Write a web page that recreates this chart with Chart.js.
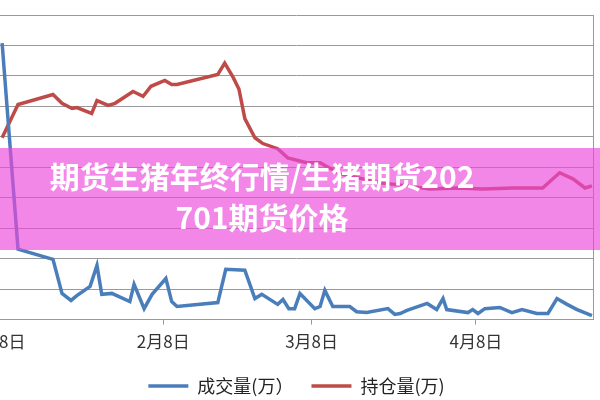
<!DOCTYPE html>
<html>
<head>
<meta charset="utf-8">
<script src="https://cdn.jsdelivr.net/npm/chart.js@4/dist/chart.umd.min.js"></script>
<style>
    html, body { margin: 0; padding: 0; background: #fff; }
    #wrap { position: relative; width: 600px; height: 400px; overflow: hidden; }
    #banner { position: absolute; left: 0; top: 148px; width: 600px; height: 102px; background: rgba(235, 70, 220, 0.65); }
    #title { position: absolute; left: 0; top: 155px; width: 524px; text-align: center; color: #fff;
             font: bold 30px/41px "Noto Sans CJK SC", sans-serif; }
</style>
</head>
<body>
<div id="wrap">
    <canvas id="chart" width="600" height="400"></canvas>
    <div id="banner"></div>
    <div id="title">期货生猪年终行情/生猪期货202<br>701期货价格</div>
</div>
<script>
// Tage ab 1月8日
var tickDays = [0, 31, 59, 90];
var tickLabels = ['1月8日', '2月8日', '3月8日', '4月8日'];

var volDays = [0.6, 3.6, 10.2, 11.9, 13.6, 14.7, 17.2, 18.5, 19.4, 21.3, 24.7, 25.5, 27.4, 28.9, 31.5, 32.6, 33.6,
    41.3, 42.8, 46.4, 48.3, 49.6, 52.6, 53.6, 54.7, 55.8, 56.8, 59.6, 60.6, 61.5, 63.0, 66.2, 67.5, 69.4,
    73.4, 74.7, 75.7, 77.0, 80.8, 82.6, 83.8, 84.5, 88.5, 89.4, 90.4, 91.7, 94.5, 96.8, 98.7, 101.5, 103.6,
    105.3, 107.2, 109.1, 111.9];
var volValues = [90.8, 23.1, 19.8, 8.6, 6.3, 7.9, 10.9, 17.8, 8.3, 8.6, 5.9, 11.6, 3.6, 8.3, 13.5, 5.9, 4.3,
    5.6, 16.5, 16.2, 6.9, 8.3, 5.0, 6.6, 3.6, 3.6, 8.6, 3.6, 4.3, 9.6, 4.3, 4.3, 2.6, 2.3,
    3.6, 1.7, 2.0, 3.0, 5.3, 3.3, 6.9, 3.3, 2.3, 3.3, 2.0, 3.6, 4.0, 2.3, 3.3, 2.0, 2.0,
    6.9, 5.0, 3.3, 1.3];

var oiDays = [0.6, 3.6, 10.2, 11.9, 13.8, 14.7, 17.5, 18.5, 20.6, 21.9, 25.3, 26.0, 27.2, 28.7, 31.3, 32.6, 33.6,
    41.3, 42.6, 44.2, 45.3, 46.4, 48.3, 49.8, 52.6, 54.5, 58.1, 60.6, 64.3, 68.7, 71.9, 77.0, 81.3,
    86.4, 91.3, 97.0, 102.6, 105.8, 108.3, 110.6, 111.9];
var oiValues = [59.7, 70.6, 73.9, 71.0, 69.3, 69.6, 67.7, 71.9, 70.3, 71.0, 74.9, 74.3, 73.3, 76.6, 78.5, 77.2, 77.2,
    80.5, 84.2, 79.5, 75.6, 66.0, 59.7, 57.8, 56.1, 53.1, 51.5, 51.5, 47.9, 46.2, 44.9, 43.9, 42.9,
    43.2, 42.9, 43.2, 43.2, 48.2, 46.2, 43.2, 43.9];

function toPoints(days, values) {
    return days.map(function (d, i) { return { x: d, y: values[i] }; });
}

var ctx = document.getElementById('chart').getContext('2d');
var chart = new Chart(ctx, {
    type: 'line',
    data: {
        datasets: [{
            label: '成交量(万）',
            data: toPoints(volDays, volValues),
            borderColor: '#4A7EBB',
            backgroundColor: '#4A7EBB',
            borderWidth: 3.5,
            pointRadius: 0,
            tension: 0
        }, {
            label: '持仓量(万)',
            data: toPoints(oiDays, oiValues),
            borderColor: '#BE4B48',
            backgroundColor: '#BE4B48',
            borderWidth: 3.5,
            pointRadius: 0,
            tension: 0
        }]
    },
    options: {
        responsive: false,
        animation: false,
        layout: { padding: { top: 15, right: 7, left: 0, bottom: -5 } },
        plugins: {
            tooltip: { enabled: false },
            legend: {
                position: 'bottom',
                labels: {
                    usePointStyle: true,
                    pointStyle: 'line',
                    pointStyleWidth: 40,
                    padding: 18,
                    color: '#222',
                    font: { family: '"Noto Sans CJK SC", sans-serif', size: 18 }
                }
            }
        },
        scales: {
            x: {
                type: 'linear',
                min: 0.2,
                max: 112.1,
                afterBuildTicks: function (axis) {
                    axis.ticks = tickDays.map(function (v) { return { value: v }; });
                },
                afterFit: function (axis) {
                    axis.paddingLeft = 0;
                    axis.paddingRight = 0;
                },
                grid: { drawOnChartArea: false, drawTicks: true, tickLength: 5, color: '#999' },
                border: { color: '#999', width: 1 },
                ticks: {
                    autoSkip: false,
                    maxRotation: 0,
                    padding: 7,
                    color: '#333',
                    font: { family: '"Noto Sans CJK SC", sans-serif', size: 17 },
                    callback: function (value) {
                        var i = tickDays.indexOf(value);
                        return i >= 0 ? tickLabels[i] : '';
                    }
                }
            },
            y: {
                min: 0,
                max: 100,
                ticks: { display: false, stepSize: 10 },
                grid: { color: '#999', lineWidth: 1, drawTicks: false },
                border: { display: false }
            },
            y2: {
                position: 'right',
                min: 0,
                max: 100,
                ticks: { display: false },
                grid: { display: false, drawTicks: false },
                border: { display: true, color: '#999', width: 1 }
            }
        }
    }
});
</script>
</body>
</html>
